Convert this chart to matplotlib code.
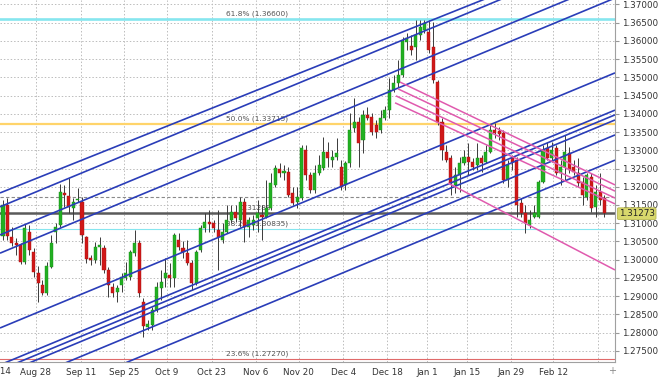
import numpy as np
import matplotlib.pyplot as plt
import matplotlib.transforms as mtransforms

# daily candles, index 0 = first visible bar (mid Aug) ... 137 = last bar
opens = [1.3065, 1.3150, 1.3063, 1.3046, 1.3040, 1.2994, 1.3076, 1.3021, 1.2964, 1.2931,
         1.2909, 1.2980, 1.3076, 1.3095, 1.3183, 1.3175, 1.3142, 1.3164, 1.3158, 1.3063,
         1.3005, 1.2999, 1.3035, 1.3032, 1.2972, 1.2925, 1.2912, 1.2931, 1.2950, 1.2953,
         1.3018, 1.3046, 1.2884, 1.2816, 1.2821, 1.2862, 1.2923, 1.2950, 1.2958, 1.2950,
         1.3054, 1.3032, 1.3018, 1.2991, 1.2936, 1.3027, 1.3087, 1.3103, 1.3101, 1.3082,
         1.3054, 1.3076, 1.3109, 1.3131, 1.3109, 1.3158, 1.3090, 1.3095, 1.3114, 1.3123,
         1.3117, 1.3142, 1.3205, 1.3249, 1.3238, 1.3241, 1.3183, 1.3158, 1.3169, 1.3301,
         1.3232, 1.3191, 1.3238, 1.3252, 1.3295, 1.3273, 1.3282, 1.3254, 1.3205, 1.3265,
         1.3361, 1.3377, 1.3328, 1.3397, 1.3391, 1.3369, 1.3355, 1.3388, 1.3410, 1.3465,
         1.3484, 1.3506, 1.3597, 1.3586, 1.3583, 1.3616, 1.3630, 1.3624, 1.3583, 1.3487,
         1.3377, 1.3295, 1.3279, 1.3205, 1.3232, 1.3265, 1.3282, 1.3268, 1.3260, 1.3279,
         1.3268, 1.3295, 1.3355, 1.3353, 1.3347, 1.3218, 1.3279, 1.3273, 1.3155, 1.3128,
         1.3095, 1.3117, 1.3117, 1.3213, 1.3306, 1.3279, 1.3306, 1.3238, 1.3254, 1.3293,
         1.3254, 1.3238, 1.3213, 1.3172, 1.3227, 1.3145, 1.3186, 1.3169]
highs = [1.3164, 1.3169, 1.3090, 1.3060, 1.3046, 1.3098, 1.3095, 1.3032, 1.2983, 1.2945,
         1.2994, 1.3068, 1.3101, 1.3208, 1.3205, 1.3224, 1.3169, 1.3197, 1.3172, 1.3065,
         1.3013, 1.3049, 1.3063, 1.3040, 1.2980, 1.2936, 1.2931, 1.2964, 1.2994, 1.3027,
         1.3082, 1.3054, 1.2895, 1.2835, 1.2870, 1.2939, 1.2972, 1.3005, 1.2991, 1.3073,
         1.3073, 1.3051, 1.3054, 1.2999, 1.3027, 1.3095, 1.3128, 1.3136, 1.3109, 1.3136,
         1.3101, 1.3150, 1.3150, 1.3150, 1.3172, 1.3169, 1.3117, 1.3123, 1.3164, 1.3150,
         1.3218, 1.3238, 1.3260, 1.3265, 1.3260, 1.3254, 1.3199, 1.3199, 1.3314, 1.3314,
         1.3241, 1.3260, 1.3287, 1.3336, 1.3323, 1.3301, 1.3334, 1.3273, 1.3271, 1.3402,
         1.3443, 1.3391, 1.3410, 1.3419, 1.3402, 1.3383, 1.3410, 1.3421, 1.3498, 1.3506,
         1.3547, 1.3610, 1.3621, 1.3616, 1.3657, 1.3657, 1.3657, 1.3657, 1.3651, 1.3492,
         1.3388, 1.3314, 1.3287, 1.3254, 1.3282, 1.3301, 1.3320, 1.3279, 1.3320, 1.3287,
         1.3314, 1.3369, 1.3375, 1.3364, 1.3355, 1.3273, 1.3287, 1.3282, 1.3169, 1.3150,
         1.3136, 1.3150, 1.3218, 1.3314, 1.3323, 1.3323, 1.3314, 1.3273, 1.3342, 1.3309,
         1.3273, 1.3279, 1.3227, 1.3238, 1.3238, 1.3205, 1.3238, 1.3177]
lows = [1.3054, 1.3054, 1.3038, 1.3013, 1.2988, 1.2988, 1.3013, 1.2953, 1.2884, 1.2903,
        1.2903, 1.2977, 1.3046, 1.3090, 1.3145, 1.3128, 1.3109, 1.3158, 1.3046, 1.2991,
        1.2986, 1.2991, 1.2986, 1.2964, 1.2898, 1.2898, 1.2884, 1.2912, 1.2945, 1.2945,
        1.3010, 1.2898, 1.2788, 1.2808, 1.2808, 1.2857, 1.2890, 1.2925, 1.2925, 1.2925,
        1.3027, 1.3005, 1.2986, 1.2917, 1.2931, 1.3021, 1.3076, 1.3076, 1.3076, 1.2972,
        1.3046, 1.3073, 1.3101, 1.3103, 1.3090, 1.3049, 1.3063, 1.3082, 1.3076, 1.3054,
        1.3114, 1.3136, 1.3199, 1.3227, 1.3218, 1.3172, 1.3150, 1.3142, 1.3164, 1.3218,
        1.3183, 1.3183, 1.3232, 1.3246, 1.3254, 1.3254, 1.3273, 1.3191, 1.3191, 1.3254,
        1.3350, 1.3254, 1.3293, 1.3383, 1.3342, 1.3334, 1.3347, 1.3383, 1.3388, 1.3460,
        1.3473, 1.3501, 1.3575, 1.3561, 1.3547, 1.3602, 1.3621, 1.3566, 1.3484, 1.3369,
        1.3273, 1.3268, 1.3177, 1.3183, 1.3186, 1.3260, 1.3232, 1.3246, 1.3246, 1.3241,
        1.3265, 1.3293, 1.3334, 1.3328, 1.3210, 1.3199, 1.3246, 1.3117, 1.3117, 1.3073,
        1.3087, 1.3114, 1.3114, 1.3210, 1.3273, 1.3268, 1.3232, 1.3205, 1.3218, 1.3238,
        1.3232, 1.3199, 1.3150, 1.3164, 1.3131, 1.3117, 1.3150, 1.3117]
closes = [1.3150, 1.3065, 1.3046, 1.3040, 1.2994, 1.3087, 1.3027, 1.2966, 1.2936, 1.2909,
          1.2983, 1.3046, 1.3090, 1.3186, 1.3177, 1.3145, 1.3158, 1.3166, 1.3068, 1.3002,
          1.2999, 1.3035, 1.3040, 1.2972, 1.2931, 1.2909, 1.2923, 1.2953, 1.2964, 1.3021,
          1.3046, 1.2909, 1.2819, 1.2824, 1.2862, 1.2925, 1.2939, 1.2964, 1.2950, 1.3068,
          1.3035, 1.3021, 1.2991, 1.2936, 1.3021, 1.3087, 1.3103, 1.3098, 1.3087, 1.3063,
          1.3076, 1.3109, 1.3131, 1.3114, 1.3158, 1.3090, 1.3109, 1.3109, 1.3128, 1.3117,
          1.3142, 1.3210, 1.3252, 1.3238, 1.3243, 1.3177, 1.3155, 1.3172, 1.3306, 1.3232,
          1.3191, 1.3238, 1.3260, 1.3295, 1.3279, 1.3282, 1.3293, 1.3199, 1.3265, 1.3355,
          1.3377, 1.3320, 1.3397, 1.3388, 1.3350, 1.3350, 1.3388, 1.3410, 1.3465, 1.3484,
          1.3506, 1.3599, 1.3608, 1.3575, 1.3616, 1.3638, 1.3649, 1.3575, 1.3492, 1.3377,
          1.3301, 1.3273, 1.3210, 1.3232, 1.3265, 1.3282, 1.3268, 1.3254, 1.3279, 1.3265,
          1.3295, 1.3355, 1.3347, 1.3345, 1.3218, 1.3260, 1.3268, 1.3150, 1.3128, 1.3101,
          1.3109, 1.3128, 1.3213, 1.3301, 1.3279, 1.3301, 1.3238, 1.3254, 1.3295, 1.3246,
          1.3241, 1.3210, 1.3177, 1.3232, 1.3142, 1.3186, 1.3164, 1.3127]

# date labels and the bar position of each gridline
date_labels = ['Aug 28', 'Sep 11', 'Sep 25', 'Oct 9', 'Oct 23', 'Nov 6', 'Nov 20',
               'Dec 4', 'Dec 18', 'Jan 1', 'Jan 15', 'Jan 29', 'Feb 12', '']
date_pos = [7.5, 17.75, 27.5, 37.4, 47.6, 57.6, 67.4, 77.5, 87.5, 96.6, 105.7, 115.7, 125.3, 135.5]

# fibonacci levels
fib_levels = [1.36600, 1.33715, 1.30835, 1.27270]
fib_names = ['61.8%', '50.0%', '38.2%', '23.6%']

# rising channel lines: price at left edge / right edge of the view
blue_left = [1.3183, 1.3145, 1.3068, 1.3018, 1.2813, 1.2712, 1.2698, 1.2684, 1.2643, 1.2575]
blue_right = [1.3857, 1.3843, 1.3766, 1.3717, 1.3512, 1.3410, 1.3397, 1.3383, 1.3342, 1.3273]

# falling channel lines: start bar, start price, price at right edge
pink_start = [90.4, 90.0, 89.5, 89.3, 101.4]
pink_y0 = [1.3487, 1.3468, 1.3449, 1.3430, 1.3210]
pink_y1 = [1.3205, 1.3188, 1.3169, 1.3153, 1.2972]

hline_level = 1.31288
dash_level = 1.3172
last_price = 1.31273

x_lo, x_hi = -0.68, 139.4
y_lo, y_hi = 1.27198, 1.37117

fig = plt.figure(figsize=(6.6, 3.78), dpi=100)
ax = fig.add_axes([0, 16 / 378, 615 / 660, 362 / 378])
ax.set_xlim(x_lo, x_hi)
ax.set_ylim(y_lo, y_hi)

# grid
yt = np.arange(1.275, 1.3701, 0.005)
ax.set_yticks(yt)
ax.set_yticklabels([f'{v:.5f}' for v in yt])
ax.set_xticks(date_pos)
ax.set_xticklabels(date_labels)
ax.grid(True, color='#bcbcbc', linestyle=(0, (1.5, 2)), linewidth=0.7, zorder=0)
ax.set_axisbelow(True)
ax.yaxis.tick_right()
ax.tick_params(axis='y', length=3, color='#999999', labelsize=6.3, labelcolor='#333333', pad=2)
ax.tick_params(axis='x', length=0, labelsize=6.3, labelcolor='#333333', pad=4)
for s in ['left', 'top']:
    ax.spines[s].set_visible(False)
for s in ['right', 'bottom']:
    ax.spines[s].set_color('#a0a0a0')
    ax.spines[s].set_linewidth(0.8)

# horizontal levels
fib_colors = ['#86e6ef', '#ffd46a', '#86e6ef', '#e06a6a']
fib_widths = [1.9, 1.6, 0.8, 0.8]
for lvl, name, col, lw in zip(fib_levels, fib_names, fib_colors, fib_widths):
    ax.axhline(lvl, color=col, lw=lw, zorder=1)
    ax.text(50.8, lvl + 0.0006, f'{name} ({lvl:.5f})', fontsize=5.3, color='#555555',
            va='bottom', ha='left', zorder=2)
ax.axhline(hline_level, color='#5a5a5a', lw=1.8, zorder=1)
ax.text(54, hline_level + 0.0006, f'{hline_level:.5f}', fontsize=5.3, color='#555555',
        va='bottom', ha='left', zorder=2)
ax.axhline(dash_level, color='#8a8a8a', lw=0.8, ls=(0, (3, 2)), zorder=1)

# candles
o = np.array(opens)
h = np.array(highs)
l = np.array(lows)
c = np.array(closes)
x = np.arange(len(o))
up = c >= o
ax.vlines(x, l, h, color='#3a3a3a', lw=0.7, zorder=3)
body = np.maximum(np.abs(c - o), 0.00015)
ax.bar(x[up], body[up], bottom=o[up], width=0.7, color='#22b022',
       edgecolor='#178c17', lw=0.3, zorder=4)
ax.bar(x[~up], body[~up], bottom=c[~up], width=0.7, color='#d01818',
       edgecolor='#a81010', lw=0.3, zorder=4)

# channel lines
for y0, y1 in zip(blue_left, blue_right):
    ax.plot([x_lo, x_hi], [y0, y1], color='#2a3db8', lw=1.2, zorder=5, solid_capstyle='butt')
for xs, y0, y1 in zip(pink_start, pink_y0, pink_y1):
    ax.plot([xs, x_hi], [y0, y1], color='#e05aae', lw=1.1, zorder=5, solid_capstyle='butt')

# current price tag on the axis
trans = mtransforms.blended_transform_factory(ax.transAxes, ax.transData)
ax.text(1.006, last_price - 0.0001, f'{last_price:.5f}', transform=trans, fontsize=6.3,
        color='#222222', va='center', ha='left', zorder=6, clip_on=False,
        bbox=dict(boxstyle='round,pad=0.15', fc='#d8d86c', ec='#b8b850', lw=0.6))

# cut-off first date label and the corner button
fig.text(-4.5 / 660, 1 - 371 / 378, 'Aug 14', fontsize=6.3, color='#333333',
         ha='center', va='center')
fig.text(612 / 660, 1 - 371 / 378, '+', fontsize=7, color='#888888', ha='center', va='center')

fig.savefig('out.png', dpi=100)
